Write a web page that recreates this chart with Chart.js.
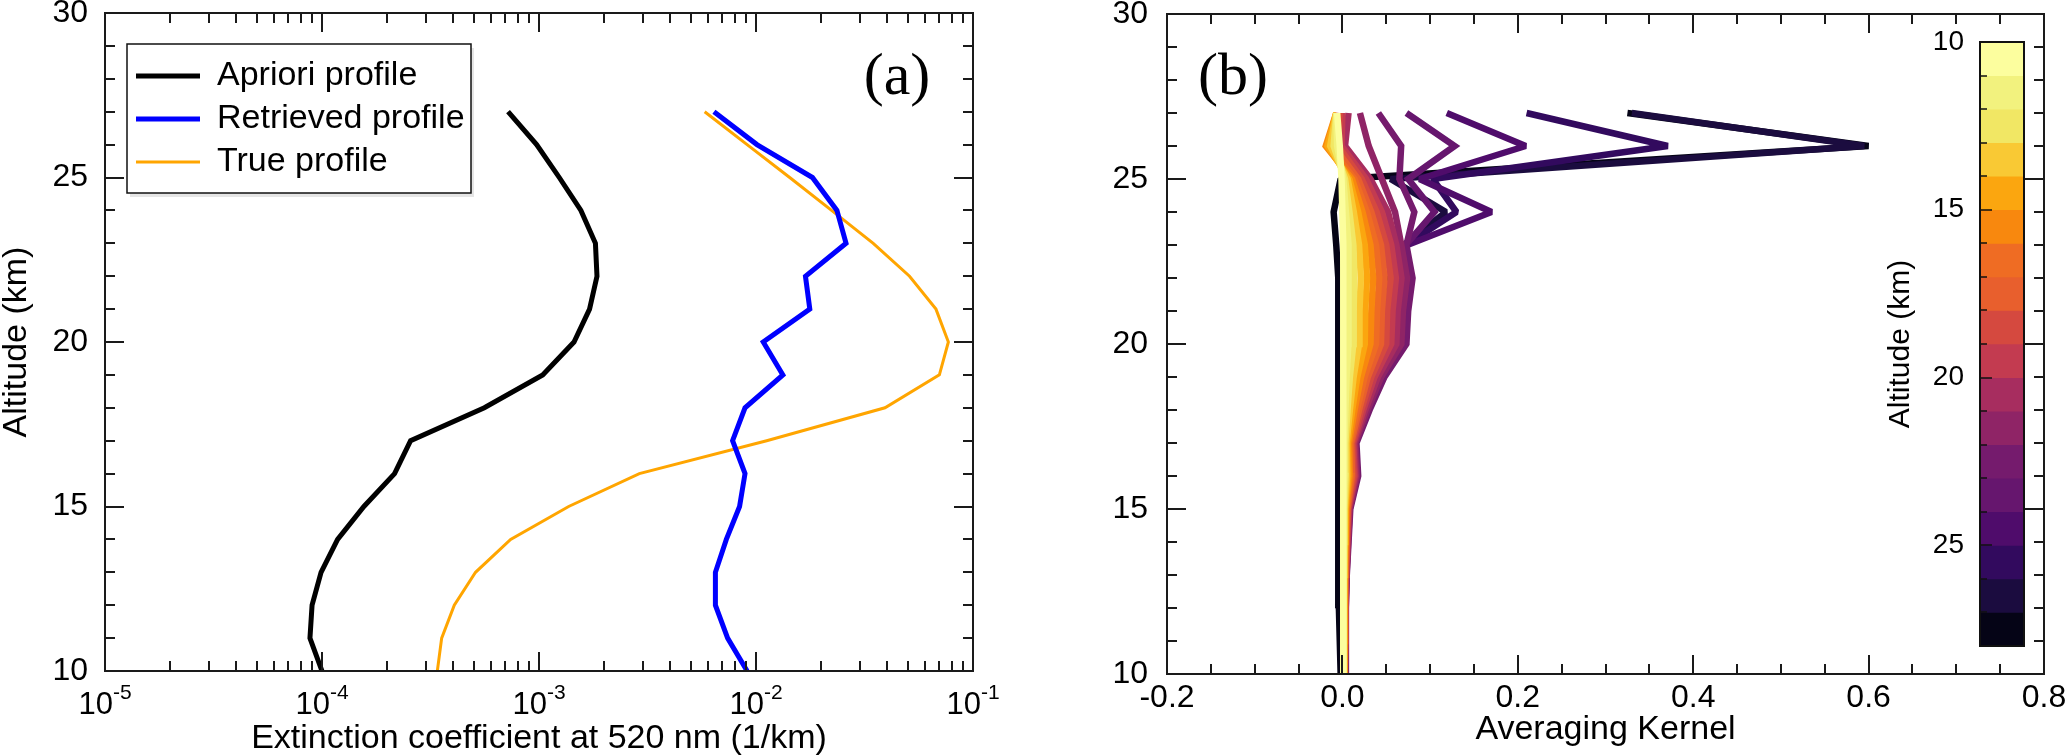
<!DOCTYPE html>
<html>
<head>
<meta charset="utf-8">
<script src="https://cdn.jsdelivr.net/npm/chart.js"></script>
<style>
  html, body { margin: 0; padding: 0; background: #fff; }
  body { width: 2066px; height: 756px; position: relative; overflow: hidden; }
  canvas { position: absolute; top: 0; }
  #profiles { left: 0; }
  #kernels { left: 1040px; }
  #colorbar { left: 1880px; }
</style>
</head>
<body>
<canvas id="profiles" width="1000" height="756"></canvas>
<canvas id="kernels" width="1026" height="756"></canvas>
<canvas id="colorbar" width="160" height="756"></canvas>
<script>
// altitude grid (km), bottom to top
const altitudes = [10, 11, 12, 13, 14, 15, 16, 17, 18, 19, 20, 21, 22, 23, 24, 25, 26, 27];

// panel (a): extinction coefficient at 520 nm (1/km)
const apriori = [1.0e-4, 8.8e-5, 9.0e-5, 9.9e-5, 1.18e-4, 1.56e-4, 2.16e-4, 2.56e-4, 5.6e-4,
  1.04e-3, 1.45e-3, 1.71e-3, 1.85e-3, 1.82e-3, 1.56e-3, 1.24e-3, 9.75e-4, 7.2e-4];
const retrieved = [9.1e-3, 7.4e-3, 6.5e-3, 6.5e-3, 7.3e-3, 8.4e-3, 8.9e-3, 7.8e-3, 8.9e-3,
  1.33e-2, 1.08e-2, 1.77e-2, 1.69e-2, 2.6e-2, 2.36e-2, 1.82e-2, 1.01e-2, 6.4e-3];
const trueProfile = [3.4e-4, 3.56e-4, 4.07e-4, 5.1e-4, 7.4e-4, 1.37e-3, 2.9e-3, 1.12e-2, 3.93e-2,
  7.0e-2, 7.7e-2, 6.75e-2, 5.1e-2, 3.47e-2, 2.23e-2, 1.43e-2, 9.1e-3, 5.8e-3];

// panel (b): averaging kernel rows, one per retrieval altitude (values at altitudes 10..27)
const kernel10 = [0.001, 0.001, 0.001, 0.001, 0.001, 0.001, 0.001, 0.001, 0.001, 0.001, 0.001, 0.001, 0.001, 0.001, 0.000, -0.001, -0.003, -0.006];
const kernel11 = [0.001, 0.001, 0.001, 0.001, 0.0015, 0.0016, 0.0024, 0.0022, 0.0034, 0.0048, 0.0068, 0.0069, 0.0073, 0.0068, 0.004, 0.001, -0.006, -0.007];
const kernel12 = [0.0013, 0.0015, 0.0015, 0.0016, 0.002, 0.0023, 0.0037, 0.0034, 0.0058, 0.0085, 0.0125, 0.0128, 0.0136, 0.0125, 0.008, 0.003, -0.010, -0.007];
const kernel13 = [0.0015, 0.0018, 0.0018, 0.002, 0.0025, 0.003, 0.0053, 0.0048, 0.0085, 0.0128, 0.019, 0.0195, 0.021, 0.019, 0.013, 0.006, -0.014, -0.007];
const kernel14 = [0.0017, 0.002, 0.002, 0.0024, 0.003, 0.0037, 0.0068, 0.0061, 0.0112, 0.017, 0.0255, 0.026, 0.028, 0.0255, 0.018, 0.008, -0.017, -0.007];
const kernel15 = [0.0019, 0.0023, 0.0023, 0.0027, 0.0036, 0.0044, 0.0083, 0.0075, 0.0139, 0.0212, 0.032, 0.033, 0.035, 0.032, 0.023, 0.011, -0.019, -0.007];
const kernel16 = [0.002, 0.0026, 0.0026, 0.003, 0.0041, 0.0052, 0.0098, 0.0088, 0.0166, 0.0254, 0.0384, 0.0395, 0.042, 0.0384, 0.028, 0.014, -0.015, -0.006];
const kernel17 = [0.0022, 0.0028, 0.0028, 0.0034, 0.0046, 0.0058, 0.011, 0.010, 0.019, 0.029, 0.044, 0.045, 0.048, 0.044, 0.033, 0.018, -0.010, -0.005];
const kernel18 = [0.0024, 0.003, 0.003, 0.0037, 0.005, 0.0064, 0.0126, 0.0112, 0.0214, 0.033, 0.050, 0.051, 0.055, 0.050, 0.039, 0.022, -0.005, -0.003];
const kernel19 = [0.0025, 0.0033, 0.0033, 0.004, 0.0056, 0.007, 0.014, 0.0124, 0.0238, 0.0367, 0.0557, 0.0572, 0.061, 0.0557, 0.045, 0.027, -0.001, 0.000];
const kernel20 = [0.0027, 0.0035, 0.0035, 0.0044, 0.006, 0.0077, 0.0153, 0.0136, 0.0262, 0.0405, 0.0615, 0.063, 0.0674, 0.0615, 0.052, 0.032, 0.003, 0.007];
const kernel21 = [0.0028, 0.0038, 0.0038, 0.0047, 0.0065, 0.0084, 0.0166, 0.0148, 0.0286, 0.0442, 0.0672, 0.069, 0.0737, 0.0672, 0.060, 0.045, 0.030, 0.020];
const kernel22 = [0.003, 0.004, 0.004, 0.005, 0.007, 0.009, 0.018, 0.016, 0.031, 0.048, 0.073, 0.075, 0.080, 0.073, 0.082, 0.065, 0.067, 0.041];
const kernel23 = [0.0025, 0.0035, 0.0035, 0.0045, 0.006, 0.008, 0.015, 0.013, 0.026, 0.041, 0.062, 0.064, 0.068, 0.072, 0.105, 0.075, 0.128, 0.073];
const kernel24 = [0.002, 0.003, 0.003, 0.004, 0.005, 0.007, 0.013, 0.012, 0.023, 0.037, 0.056, 0.058, 0.062, 0.074, 0.170, 0.088, 0.209, 0.119];
const kernel25 = [0.002, 0.003, 0.003, 0.0035, 0.0045, 0.006, 0.012, 0.011, 0.021, 0.034, 0.052, 0.054, 0.058, 0.072, 0.130, 0.103, 0.371, 0.210];
const kernel26 = [0.002, 0.0025, 0.0025, 0.003, 0.004, 0.006, 0.011, 0.010, 0.020, 0.032, 0.048, 0.050, 0.054, 0.070, 0.118, 0.055, 0.595, 0.330];
const kernel27 = [-0.002, -0.003, -0.004, -0.004, -0.004, -0.004, -0.005, -0.005, -0.005, -0.005, -0.005, -0.005, -0.005, -0.007, -0.010, -0.002, 0.600, 0.325];

const kernelLevels = [10, 11, 12, 13, 14, 15, 16, 17, 18, 19, 20, 21, 22, 23, 24, 25, 26, 27];
const kernelRows = [kernel10, kernel11, kernel12, kernel13, kernel14, kernel15, kernel16, kernel17, kernel18,
  kernel19, kernel20, kernel21, kernel22, kernel23, kernel24, kernel25, kernel26, kernel27];

// tick labels
const altitudeTicks = [10, 15, 20, 25, 30];
const extinctionTicks = [1e-5, 1e-4, 1e-3, 1e-2, 1e-1];
const kernelTicks = [-0.2, 0.0, 0.2, 0.4, 0.6, 0.8];
const colorbarTicks = [10, 15, 20, 25];

// inferno-like colours, one per retrieval altitude (10 km ... 27 km)
const levelColors = ['#fcfe9e', '#f2f27e', '#f1e764', '#f9c934', '#fba60f', '#f8880e', '#ef6c23', '#e85f2d', '#d5493f',
  '#c33b50', '#a72d5f', '#8f2466', '#751b6d', '#66166e', '#4f0c6b', '#320a5e', '#1b0c3f', '#050416'];

const SANS = "'Liberation Sans', Arial, Helvetica, sans-serif";
const SERIF = "'Liberation Serif', 'Times New Roman', serif";
Chart.defaults.font.family = SANS;
Chart.defaults.color = '#000';

const toPoints = row => altitudes.map((h, i) => ({ x: row[i], y: h }));
const stepList = (lo, hi, step) => {
  const out = [];
  for (let v = lo; v <= hi + 1e-9; v += step) out.push(+v.toFixed(4));
  return out;
};
const logMinor = [];
for (let d = -5; d < -1; d++) for (let m = 2; m <= 9; m++) logMinor.push(m * Math.pow(10, d));

// frame with inward ticks on all four sides, panel tag, legend box, 10^n labels
const frameTicks = {
  id: 'frameTicks',
  beforeDraw(chart, args, opts) {
    const b = opts.legendBox;
    if (!b) return;
    const ctx = chart.ctx;
    ctx.save();
    ctx.fillStyle = 'rgba(0,0,0,0.10)';
    ctx.fillRect(b.left + 3, b.top + 4, b.right - b.left, b.bottom - b.top);
    ctx.fillStyle = '#fff';
    ctx.fillRect(b.left, b.top, b.right - b.left, b.bottom - b.top);
    ctx.strokeStyle = '#111';
    ctx.lineWidth = 1.5;
    ctx.strokeRect(b.left, b.top, b.right - b.left, b.bottom - b.top);
    ctx.restore();
  },
  afterLayout(chart, args, opts) {
    if (opts.legendAt && chart.legend) {
      chart.legend.left = opts.legendAt.left;
      chart.legend.top = opts.legendAt.top;
    }
  },
  afterDatasetsDraw(chart, args, opts) {
    const { ctx, chartArea: a } = chart;
    const sx = chart.scales.x, sy = chart.scales.y;
    ctx.save();
    ctx.strokeStyle = '#1a1a1a';
    ctx.lineWidth = 2;
    ctx.beginPath();
    const vTick = (v, len) => {
      const px = Math.round(sx.getPixelForValue(v));
      ctx.moveTo(px, a.bottom); ctx.lineTo(px, a.bottom - len);
      ctx.moveTo(px, a.top); ctx.lineTo(px, a.top + len);
    };
    const hTick = (v, len) => {
      const py = Math.round(sy.getPixelForValue(v));
      ctx.moveTo(a.left, py); ctx.lineTo(a.left + len, py);
      ctx.moveTo(a.right, py); ctx.lineTo(a.right - len, py);
    };
    (opts.xMinor || []).forEach(v => vTick(v, 10));
    sx.ticks.forEach(t => vTick(t.value, 19));
    (opts.yMinor || []).forEach(v => hTick(v, 10));
    sy.ticks.forEach(t => hTick(t.value, 19));
    ctx.stroke();
    ctx.strokeRect(a.left, a.top, a.right - a.left, a.bottom - a.top);
    ctx.fillStyle = '#000';
    if (opts.powerLabels) {
      // base "10" with a raised exponent, centred on each decade tick
      ctx.textBaseline = 'alphabetic';
      ctx.textAlign = 'left';
      sx.ticks.forEach(t => {
        const base = '10';
        const exp = String(Math.round(Math.log10(t.value)));
        ctx.font = '31px ' + SANS;
        const wb = ctx.measureText(base).width;
        ctx.font = '21px ' + SANS;
        const we = ctx.measureText(exp).width;
        const x0 = sx.getPixelForValue(t.value) - (wb + we) / 2;
        ctx.font = '31px ' + SANS;
        ctx.fillText(base, x0, a.bottom + 43);
        ctx.font = '21px ' + SANS;
        ctx.fillText(exp, x0 + wb, a.bottom + 28);
      });
    }
    if (opts.tag) {
      ctx.font = '60px ' + SERIF;
      ctx.textAlign = 'center';
      ctx.textBaseline = 'middle';
      const tx = opts.tagFromRight ? a.right - opts.tagDx : a.left + opts.tagDx;
      ctx.fillText(opts.tag, tx, a.top + opts.tagDy);
    }
    ctx.restore();
  }
};

// ---------- panel (a) ----------
new Chart(document.getElementById('profiles'), {
  type: 'scatter',
  data: {
    datasets: [
      { label: 'Apriori profile', data: toPoints(apriori), borderColor: '#000000', backgroundColor: '#000000',
        borderWidth: 5, showLine: true, pointRadius: 0 },
      { label: 'Retrieved profile', data: toPoints(retrieved), borderColor: '#0000ff', backgroundColor: '#0000ff',
        borderWidth: 5, showLine: true, pointRadius: 0 },
      { label: 'True profile', data: toPoints(trueProfile), borderColor: '#ffa500', backgroundColor: '#ffa500',
        borderWidth: 3, showLine: true, pointRadius: 0 }
    ]
  },
  options: {
    responsive: false,
    animation: false,
    events: [],
    layout: { padding: { left: 0, top: 13, right: 27, bottom: 0 } },
    scales: {
      x: {
        type: 'logarithmic', min: 1e-5, max: 1e-1,
        afterBuildTicks: s => { s.ticks = extinctionTicks.map(v => ({ value: v })); },
        ticks: { callback: () => '', font: { size: 32, lineHeight: 1 }, padding: 17,
          maxRotation: 0, autoSkip: false, color: '#000' },
        grid: { display: false, drawTicks: false },
        border: { display: false },
        title: { display: true, text: 'Extinction coefficient at 520 nm (1/km)', color: '#000',
          font: { size: 34, lineHeight: 1 }, padding: { top: 0, bottom: 0 } },
        afterFit: s => { s.height = 85; s.paddingLeft = 0; s.paddingRight = 0; }
      },
      y: {
        type: 'linear', min: 10, max: 30,
        afterBuildTicks: s => { s.ticks = altitudeTicks.map(v => ({ value: v })); },
        ticks: { font: { size: 32 }, padding: 17, autoSkip: false, color: '#000' },
        grid: { display: false, drawTicks: false },
        border: { display: false },
        title: { display: true, text: 'Altitude (km)', color: '#000',
          font: { size: 34, lineHeight: 1 }, padding: { top: 0, bottom: 0 } },
        afterFit: s => { s.width = 105; s.paddingTop = 0; s.paddingBottom = 0; }
      }
    },
    plugins: {
      tooltip: { enabled: false },
      legend: {
        position: 'chartArea',
        align: 'start',
        labels: { usePointStyle: true, pointStyle: 'line', pointStyleWidth: 64, padding: 9,
          font: { size: 34 }, color: '#000' }
      },
      frameTicks: {
        xMinor: logMinor,
        yMinor: stepList(10, 30, 1),
        powerLabels: true,
        tag: '(a)', tagFromRight: true, tagDx: 76, tagDy: 65,
        legendBox: { left: 127, top: 44, right: 471, bottom: 193 },
        legendAt: { left: 127, top: 50 }
      }
    }
  },
  plugins: [frameTicks]
});

// ---------- panel (b) ----------
new Chart(document.getElementById('kernels'), {
  type: 'scatter',
  data: {
    datasets: kernelRows.map((row, i) => ({
      label: kernelLevels[i] + ' km',
      data: toPoints(row),
      borderColor: levelColors[i],
      backgroundColor: levelColors[i],
      borderWidth: 6.5,
      borderJoinStyle: kernelLevels[i] >= 24 ? 'bevel' : 'miter',
      showLine: true,
      pointRadius: 0
    }))
  },
  options: {
    responsive: false,
    animation: false,
    events: [],
    layout: { padding: { left: 0, top: 14, right: 22, bottom: 0 } },
    scales: {
      x: {
        type: 'linear', min: -0.2, max: 0.8,
        afterBuildTicks: s => { s.ticks = kernelTicks.map(v => ({ value: v })); },
        ticks: { callback: v => (Math.abs(v) < 1e-9 ? 0 : v).toFixed(1), font: { size: 32, lineHeight: 1 },
          padding: 8, maxRotation: 0, autoSkip: false, color: '#000' },
        grid: { display: false, drawTicks: false },
        border: { display: false },
        title: { display: true, text: 'Averaging Kernel', color: '#000',
          font: { size: 34, lineHeight: 1 }, padding: { top: 0, bottom: 9 } },
        afterFit: s => { s.height = 82; s.paddingLeft = 0; s.paddingRight = 0; }
      },
      y: {
        type: 'linear', min: 10, max: 30,
        afterBuildTicks: s => { s.ticks = altitudeTicks.map(v => ({ value: v })); },
        ticks: { font: { size: 32 }, padding: 19, autoSkip: false, color: '#000' },
        grid: { display: false, drawTicks: false },
        border: { display: false },
        afterFit: s => { s.width = 127; s.paddingTop = 0; s.paddingBottom = 0; }
      }
    },
    plugins: {
      tooltip: { enabled: false },
      legend: { display: false },
      frameTicks: {
        xMinor: stepList(-0.2, 0.8, 0.05),
        yMinor: stepList(10, 30, 1),
        tag: '(b)', tagFromRight: false, tagDx: 66, tagDy: 64
      }
    }
  },
  plugins: [frameTicks]
});

// ---------- colour bar ----------
const colorbarFrame = {
  id: 'colorbarFrame',
  afterDatasetsDraw(chart) {
    const { ctx, chartArea: a } = chart;
    const sy = chart.scales.y;
    ctx.save();
    ctx.strokeStyle = '#111';
    ctx.lineWidth = 1.5;
    ctx.beginPath();
    for (let v = 10; v <= 28; v++) {
      const py = Math.round(sy.getPixelForValue(v));
      const len = colorbarTicks.includes(v) ? 12 : 7;
      ctx.moveTo(a.left, py); ctx.lineTo(a.left + len, py);
    }
    ctx.stroke();
    ctx.lineWidth = 2;
    ctx.strokeRect(a.left, a.top, a.right - a.left, a.bottom - a.top);
    ctx.restore();
  }
};

new Chart(document.getElementById('colorbar'), {
  type: 'bar',
  data: {
    labels: [''],
    datasets: kernelLevels.map((lv, i) => ({
      label: lv + ' km',
      data: [[lv, lv + 1]],
      backgroundColor: levelColors[i],
      borderWidth: 0,
      barPercentage: 1,
      categoryPercentage: 1,
      grouped: false
    }))
  },
  options: {
    responsive: false,
    animation: false,
    events: [],
    layout: { padding: { left: 0, top: 42, right: 16, bottom: 110 } },
    scales: {
      x: { display: false },
      y: {
        type: 'linear', min: 10, max: 28, reverse: true,
        afterBuildTicks: s => { s.ticks = colorbarTicks.map(v => ({ value: v })); },
        ticks: { font: { size: 28 }, padding: 16, autoSkip: false, color: '#000' },
        grid: { display: false, drawTicks: false },
        border: { display: false },
        title: { display: true, text: 'Altitude (km)', color: '#000',
          font: { size: 30, lineHeight: 1 }, padding: { top: 6, bottom: 0 } },
        afterFit: s => { s.width = 100; s.paddingTop = 0; s.paddingBottom = 0; }
      }
    },
    plugins: { tooltip: { enabled: false }, legend: { display: false } }
  },
  plugins: [colorbarFrame]
});
</script>
</body>
</html>
